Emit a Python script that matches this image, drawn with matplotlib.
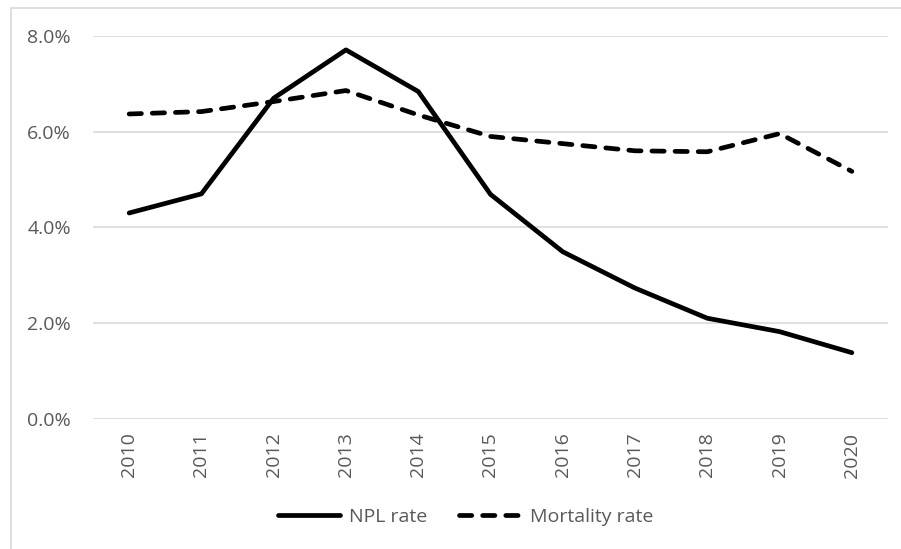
import numpy as np
import matplotlib
import matplotlib.pyplot as plt
from matplotlib.patches import Rectangle
from matplotlib.ticker import FuncFormatter, MultipleLocator

plt.rcParams['font.family'] = ['Open Sans', 'DejaVu Sans']

years = ['2010', '2011', '2012', '2013', '2014', '2015',
         '2016', '2017', '2018', '2019', '2020']
npl_rate = [4.30, 4.70, 6.70, 7.71, 6.84, 4.69, 3.49, 2.73, 2.10, 1.82, 1.38]
mortality_rate = [6.37, 6.42, 6.63, 6.86, 6.35, 5.90, 5.75, 5.60, 5.58, 5.96, 5.17]

W, H = 901, 549
fig = plt.figure(figsize=(W / 100, H / 100), dpi=100)

grid_col = '#d9d9d9'
text_col = '#595959'

# outer chart border (runs off the right and bottom edges)
fig.patches.append(Rectangle((11 / W, -0.1), 1.2, (H - 8) / H + 0.1,
                             transform=fig.transFigure, fill=False,
                             edgecolor=grid_col, lw=1.2))

x0, x1 = 93, 888
y_top, y_bot = 36, 418.7
ax = fig.add_axes((x0 / W, (H - y_bot) / H, (x1 - x0) / W, (y_bot - y_top) / H))

x = np.arange(len(years))
ax.plot(x, np.array(npl_rate) / 100, color='black', lw=3.4,
        solid_capstyle='round', solid_joinstyle='round', clip_on=False,
        label='NPL rate')
ax.plot(x, np.array(mortality_rate) / 100, color='black', lw=3.4,
        dashes=(2.6, 2.3), dash_capstyle='round', dash_joinstyle='round',
        clip_on=False, label='Mortality rate')

ax.set_xlim(-0.5, len(years) - 0.5)
ax.set_ylim(0, 0.08)
ax.yaxis.set_major_locator(MultipleLocator(0.02))
ax.yaxis.set_major_formatter(FuncFormatter(lambda v, pos: '{:.1f}%'.format(v * 100)))
ax.set_xticks(x)
ax.set_xticklabels(years, rotation=90)

ax.grid(axis='y', color=grid_col, lw=1.2)
ax.set_axisbelow(True)
for s in ax.spines.values():
    s.set_visible(False)
ax.tick_params(axis='both', length=0, labelsize=14, colors=text_col)
ax.tick_params(axis='y', pad=16)
ax.tick_params(axis='x', pad=10)

leg = fig.legend(loc='center', bbox_to_anchor=(466 / W, (H - 517) / H),
                 ncol=2, frameon=False, fontsize=14, handlelength=3.2,
                 handletextpad=0.45, columnspacing=1.65)
for t in leg.get_texts():
    t.set_color(text_col)

plt.savefig('out.png', dpi=100)
